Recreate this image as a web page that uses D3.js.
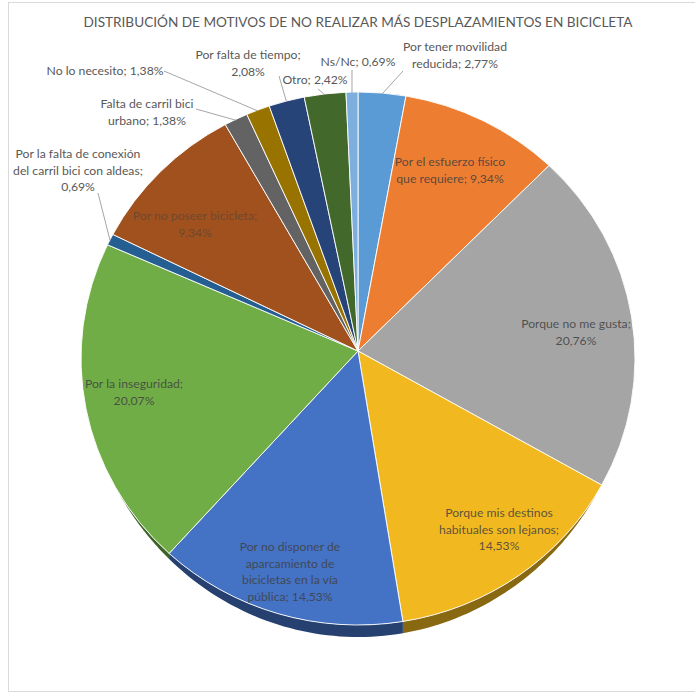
<!DOCTYPE html>
<html><head><meta charset="utf-8">
<script src="https://cdn.jsdelivr.net/npm/d3@7"></script>
<style>body{margin:0;background:#fff}</style>
</head><body>
<svg id="c" width="695" height="694"></svg>
<script>
// ---- data ----
const title = "DISTRIBUCIÓN DE MOTIVOS DE NO REALIZAR MÁS DESPLAZAMIENTOS EN BICICLETA";
const categories = [
  "Por tener movilidad reducida",
  "Por el esfuerzo físico que requiere",
  "Porque no me gusta",
  "Porque mis destinos habituales son lejanos",
  "Por no disponer de aparcamiento de bicicletas en la vía pública",
  "Por la inseguridad",
  "Por la falta de conexión del carril bici con aldeas",
  "Por no poseer bicicleta",
  "Falta de carril bici urbano",
  "No lo necesito",
  "Por falta de tiempo",
  "Otro",
  "Ns/Nc"
];
const values = [2.77, 9.34, 20.76, 14.53, 14.53, 20.07, 0.69, 9.34, 1.38, 1.38, 2.08, 2.42, 0.69];
const valueLabels = ["2,77%","9,34%","20,76%","14,53%","14,53%","20,07%","0,69%","9,34%","1,38%","1,38%","2,08%","2,42%","0,69%"];
const labelLines = [
  ["Por tener movilidad","reducida; 2,77%"],
  ["Por el esfuerzo físico","que requiere; 9,34%"],
  ["Porque no me gusta;","20,76%"],
  ["Porque mis destinos","habituales son lejanos;","14,53%"],
  ["Por no disponer de","aparcamiento de","bicicletas en la vía","pública; 14,53%"],
  ["Por la inseguridad;","20,07%"],
  ["Por la falta de conexión","del carril bici con aldeas;","0,69%"],
  ["Por no poseer bicicleta;","9,34%"],
  ["Falta de carril bici","urbano; 1,38%"],
  ["No lo necesito; 1,38%"],
  ["Por falta de tiempo;","2,08%"],
  ["Otro; 2,42%"],
  ["Ns/Nc; 0,69%"]
];

// ---- styles / layout ----
const colors = ["#5B9BD5","#ED7D31","#A5A5A5","#F2B81F","#4472C4","#70AD47","#255E91","#A0511E","#636363","#997300","#264478","#43682B","#7CAFDD"];
const labelPos = [
  {x:455,y:51,out:true,from:[403,71]},
  {x:450,y:166},
  {x:576,y:328},
  {x:499,y:517},
  {x:290,y:551},
  {x:134,y:388},
  {x:78,y:158,out:true,from:[98,193]},
  {x:195,y:220},
  {x:147,y:108,out:true,from:[196,109]},
  {x:105,y:75,out:true,from:[164,71]},
  {x:248,y:59,out:true,from:[279,76]},
  {x:315,y:84,out:true,from:[318,89]},
  {x:358,y:66,out:true,from:[352,70]}
];
const cx = 358, cy = 358.5, rx = 277, ry = 266.5, apex = [358, 351], depthMax = 12;
const font = "Lato, 'Open Sans', sans-serif";

const svg = d3.select("#c");
svg.append("rect").attr("x",8.5).attr("y",2.5).attr("width",700).attr("height",689)
  .attr("fill","#fff").attr("stroke","#D9D9D9").attr("stroke-width",1);

svg.append("text").attr("x",358).attr("y",27).attr("text-anchor","middle")
  .attr("font-family",font).attr("font-size",13.6).attr("fill","#595959")
  .text(title);

const pieData = d3.pie().sort(null).value(d => d)(values);
const pt = (a, dy=0) => [cx + rx*Math.sin(a), cy - ry*Math.cos(a) + dy];
const depthAt = a => depthMax * Math.max(0, (-Math.cos(a) - 0.5) / 0.5);

// side (depth) visible along lower rim
const sideG = svg.append("g");
const line = d3.line();
pieData.forEach((p,i) => {
  const s0 = Math.max(p.startAngle, 2*Math.PI/3), s1 = Math.min(p.endAngle, 4*Math.PI/3);
  if (s1 <= s0) return;
  const n = 40, upper = [], lower = [];
  for (let k = 0; k <= n; k++) {
    const a = s0 + (s1 - s0) * k / n;
    upper.push(pt(a));
    lower.push(pt(a, depthAt(a)));
  }
  const pts = upper.concat(lower.reverse());
  sideG.append("path").attr("d", line(pts) + "Z")
    .attr("fill", d3.color(colors[i]).darker(1.6)).attr("stroke","none");
});

// top faces
const faceG = svg.append("g");
pieData.forEach((p,i) => {
  const a = pt(p.startAngle), b = pt(p.endAngle);
  const large = (p.endAngle - p.startAngle) > Math.PI ? 1 : 0;
  const dstr = `M${apex}L${a}A${rx},${ry} 0 ${large} 1 ${b}Z`;
  faceG.append("path").attr("d", dstr).attr("fill", colors[i])
    .attr("stroke","#fff").attr("stroke-width",0.9).attr("stroke-linejoin","round");
});

// leader lines
pieData.forEach((p,i) => {
  const L = labelPos[i];
  if (!L.out) return;
  const mid = (p.startAngle + p.endAngle)/2;
  const e = pt(mid);
  svg.append("line").attr("x1",L.from[0]).attr("y1",L.from[1])
    .attr("x2",e[0]).attr("y2",e[1]+1)
    .attr("stroke","#A6A6A6").attr("stroke-width",1);
});

// labels
pieData.forEach((p,i) => {
  const L = labelPos[i];
  const t = svg.append("text").attr("text-anchor","middle")
    .attr("font-family",font).attr("font-size",12.2)
    .attr("fill", L.out ? "#595959" : "#404040")
    .attr("fill-opacity", L.out ? 1 : (i===7 ? 0.55 : 0.85));
  labelLines[i].forEach((ln,k) => {
    t.append("tspan").attr("x",L.x).attr("y",L.y + k*16.5).text(ln);
  });
});
</script>
</body></html>
